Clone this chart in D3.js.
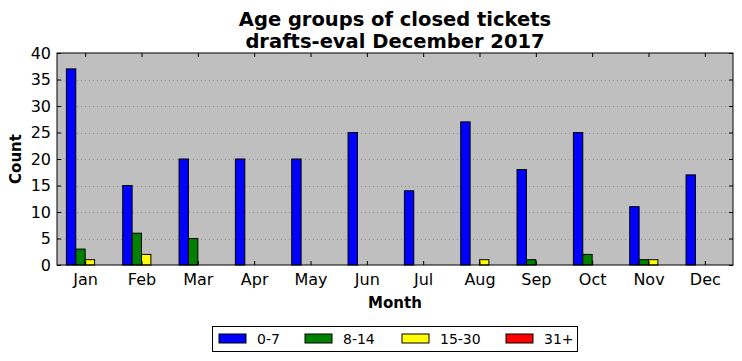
<!DOCTYPE html>
<html>
<head>
<meta charset="utf-8">
<script src="https://cdn.jsdelivr.net/npm/d3@7"></script>
<style>
  body { margin: 0; background: #fff; }
  text { font-family: "DejaVu Sans", sans-serif; }
</style>
</head>
<body>
<div id="chart"></div>
<script>
// Data
const months = ["Jan", "Feb", "Mar", "Apr", "May", "Jun", "Jul", "Aug", "Sep", "Oct", "Nov", "Dec"];
const groups = ["0-7", "8-14", "15-30", "31+"];
const colors = ["#0000ff", "#008000", "#ffff00", "#ff0000"];
const age0to7 = [37, 15, 20, 20, 20, 25, 14, 27, 18, 25, 11, 17];
const age8to14 = [3, 6, 5, 0, 0, 0, 0, 0, 1, 2, 1, 0];
const age15to30 = [1, 2, 0, 0, 0, 0, 0, 1, 0, 0, 1, 0];
const age31plus = [0, 0, 0, 0, 0, 0, 0, 0, 0, 0, 0, 0];
const yTicks = [0, 5, 10, 15, 20, 25, 30, 35, 40];

const series = [age0to7, age8to14, age15to30, age31plus];

// Dimensions
const width = 742,
    height = 361,
    margin = { top: 53, left: 57, bottom: 96, right: 9 };

const innerW = width - margin.left - margin.right,
    innerH = height - margin.top - margin.bottom;

// Scales
const x = d3.scaleLinear().domain([-0.5, months.length - 0.5]).range([0, innerW]);
const y = d3.scaleLinear().domain([0, 40]).range([innerH, 0]);
const barW = 1 / 6;

const svg = d3.select("#chart")
    .append("svg")
    .attr("width", width)
    .attr("height", height);

// Title
svg.append("text")
    .attr("x", margin.left + innerW / 2)
    .attr("y", 26)
    .attr("text-anchor", "middle")
    .style("font-size", "19.5px")
    .style("font-weight", "bold")
    .text("Age groups of closed tickets");
svg.append("text")
    .attr("x", margin.left + innerW / 2)
    .attr("y", 48)
    .attr("text-anchor", "middle")
    .style("font-size", "19.5px")
    .style("font-weight", "bold")
    .text("drafts-eval December 2017");

const g = svg.append("g")
    .attr("transform", `translate(${margin.left}, ${margin.top})`);

// Background
g.append("rect")
    .attr("width", innerW)
    .attr("height", innerH)
    .attr("fill", "#bfbfbf");

// Grid
g.append("g")
    .selectAll("line")
    .data(yTicks.slice(1, -1))
    .join("line")
    .attr("x1", 0)
    .attr("x2", innerW)
    .attr("y1", d => Math.round(y(d)) + 0.5)
    .attr("y2", d => Math.round(y(d)) + 0.5)
    .attr("stroke", "#808080")
    .attr("stroke-width", 0.8)
    .attr("stroke-dasharray", "1,3");

// Bars
series.forEach((vals, s) => {
    g.append("g")
        .selectAll("rect")
        .data(vals)
        .join("rect")
        .attr("x", (d, i) => x(i - 2 * barW + s * barW))
        .attr("y", d => y(d))
        .attr("width", x(barW) - x(0))
        .attr("height", d => y(0) - y(d))
        .attr("fill", colors[s])
        .attr("stroke", "#000")
        .attr("stroke-width", 1);
});

// Axes (classic style: ticks inward, on all sides)
const xAxis = d3.axisBottom(x)
    .tickValues(d3.range(months.length))
    .tickFormat(i => months[i])
    .tickSizeInner(-4).tickSizeOuter(0).tickPadding(9);
const xTop = d3.axisTop(x)
    .tickValues(d3.range(months.length))
    .tickFormat("")
    .tickSizeInner(-4).tickSizeOuter(0);
const yAxis = d3.axisLeft(y)
    .tickValues(yTicks)
    .tickSizeInner(-4).tickSizeOuter(0).tickPadding(6);
const yRight = d3.axisRight(y)
    .tickValues(yTicks)
    .tickFormat("")
    .tickSizeInner(-4).tickSizeOuter(0);

const styleAxis = a => {
    a.select(".domain").remove();
    a.selectAll("text").style("font-size", "16px").attr("fill", "#000")
        .style("font-family", "DejaVu Sans, sans-serif");
    a.selectAll("line").attr("stroke", "#000");
};

g.append("g").attr("transform", `translate(0, ${innerH})`).call(xAxis).call(styleAxis);
g.append("g").call(xTop).call(styleAxis);
g.append("g").call(yAxis).call(styleAxis);
g.append("g").attr("transform", `translate(${innerW}, 0)`).call(yRight).call(styleAxis);

// Frame
g.append("rect")
    .attr("width", innerW)
    .attr("height", innerH)
    .attr("fill", "none")
    .attr("stroke", "#000")
    .attr("stroke-width", 1);

// Axis labels
svg.append("text")
    .attr("x", margin.left + innerW / 2)
    .attr("y", 308)
    .attr("text-anchor", "middle")
    .style("font-size", "15px")
    .style("font-weight", "bold")
    .text("Month");
svg.append("text")
    .attr("transform", `translate(21, ${margin.top + innerH / 2}) rotate(-90)`)
    .attr("text-anchor", "middle")
    .style("font-size", "15px")
    .style("font-weight", "bold")
    .text("Count");

// Legend
const legend = svg.append("g").attr("transform", "translate(212, 326)");
legend.append("rect")
    .attr("x", 0.5).attr("y", 0.5)
    .attr("width", 365).attr("height", 25)
    .attr("fill", "#fff")
    .attr("stroke", "#000");
const legendX = [7, 93, 190, 294];
const items = legend.selectAll("g.item")
    .data(groups)
    .join("g")
    .attr("class", "item")
    .attr("transform", (d, i) => `translate(${legendX[i]}, 0)`);
items.append("rect")
    .attr("x", 0).attr("y", 8)
    .attr("width", 27).attr("height", 9)
    .attr("fill", (d, i) => colors[i])
    .attr("stroke", "#000");
items.append("text")
    .attr("x", 38).attr("y", 18)
    .style("font-size", "14px")
    .text(d => d);
</script>
</body>
</html>
